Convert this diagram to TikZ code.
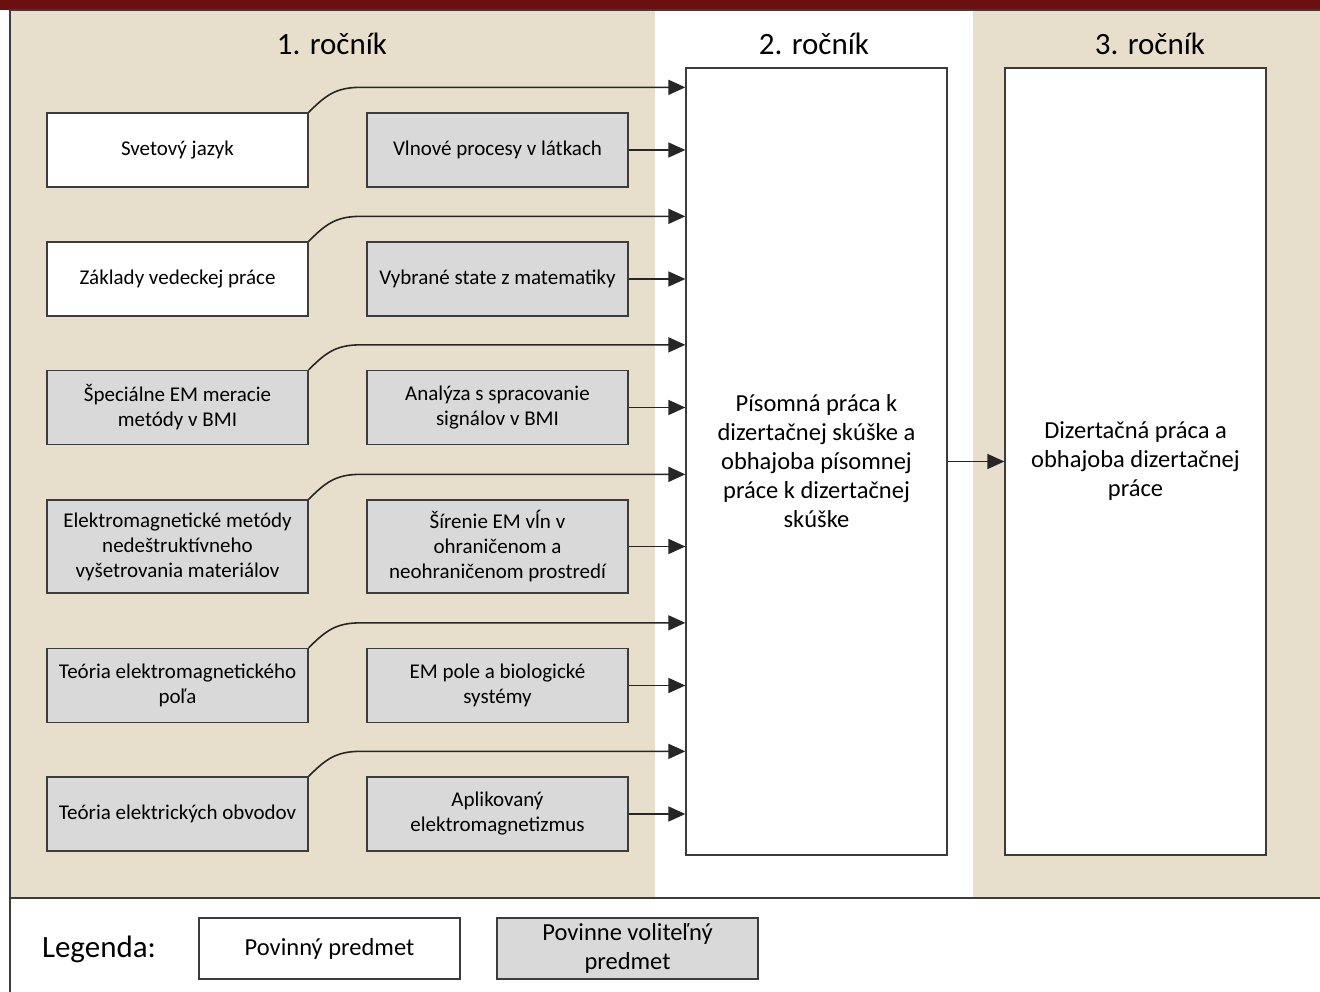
\documentclass[tikz,border=0pt]{standalone}
\usepackage{fontspec}
\setmainfont{Carlito}
\definecolor{studbeige}{HTML}{E7DFCC}
\definecolor{studgray}{HTML}{D9D9D9}
\definecolor{studred}{HTML}{6A1010}
\definecolor{studline}{HTML}{3C3C3C}
\usetikzlibrary{arrows.meta, positioning, calc}

\begin{document}
\begin{tikzpicture}[x=1pt, y=-1pt,
    subj/.style={rectangle, draw=studline, line width=1.3pt, fill=white,
                 minimum width=261pt, minimum height=74pt, inner sep=0pt,
                 align=center, font=\fontsize{21}{25}\selectfont},
    opt/.style={subj, fill=studgray},
    big/.style={subj, minimum height=787pt,
                font=\fontsize{24.5}{29}\selectfont},
    head/.style={font=\fontsize{31}{34}\selectfont},
    arr/.style={-{Triangle[length=17pt, width=15pt]}, line width=1.6pt,
                black!85}
  ]
    \useasboundingbox (0,0) rectangle (1320,992);
    % Background of the three years
    \fill[studbeige] (10,10) rectangle (655,898);
    \fill[white]     (655,10) rectangle (973,898);
    \fill[studbeige] (973,10) rectangle (1320,898);
    \fill[studred]   (0,0) rectangle (1320,10);
    \draw[studline, line width=1.3pt] (10,10) -- (10,992);
    \draw[studline, line width=1.3pt] (10,10) -- (1320,10);
    \draw[studline, line width=1.3pt] (10,898) -- (1320,898);
    % Headings
    \node[head] (h1) at (332,44)  {1. ročník};
    \node[head] (h2) at (814,44)  {2. ročník};
    \node[head] (h3) at (1150,44) {3. ročník};
    % Year 2 and year 3
    \node[big] (pis) at (816.5,461.5)
      {Písomná práca k\\dizertačnej skúške a\\obhajoba písomnej\\práce k dizertačnej\\skúške};
    \node[big] (diz) at (1135.5,461.5)
      {Dizertačná práca a\\obhajoba dizertačnej\\práce};
    % Year 1, left column
    \node[subj] (sv)  at (177.5,150)   {Svetový jazyk};
    \node[subj] (zvp) at (177.5,279)   {Základy vedeckej práce};
    \node[opt]  (sem) at (177.5,407.5) {Špeciálne EM meracie\\metódy v BMI};
    \node[opt, minimum height=93pt] (emn) at (177.5,546.5)
      {Elektromagnetické metódy\\nedeštruktívneho\\vyšetrovania materiálov};
    \node[opt]  (tep) at (177.5,685.5) {Teória elektromagnetického\\poľa};
    \node[opt]  (teo) at (177.5,814)   {Teória elektrických obvodov};
    % Year 1, right column
    \node[opt]  (vl)  at (497.5,150)   {Vlnové procesy v látkach};
    \node[opt]  (vsm) at (497.5,279)   {Vybrané state z matematiky};
    \node[opt]  (ass) at (497.5,407.5) {Analýza s spracovanie\\signálov v BMI};
    \node[opt, minimum height=93pt] (sir) at (497.5,546.5)
      {Šírenie EM vĺn v\\ohraničenom a\\neohraničenom prostredí};
    \node[opt]  (ebs) at (497.5,685.5) {EM pole a biologické\\systémy};
    \node[opt]  (aem) at (497.5,814)   {Aplikovaný\\elektromagnetizmus};
    % Legend
    \node[head] (leg) at (99,949) {Legenda:};
    \node[subj, minimum height=61pt, font=\fontsize{24.5}{29}\selectfont]
      (lpov) at (329.5,948.5) {Povinný predmet};
    \node[opt, minimum height=61pt, font=\fontsize{24.5}{29}\selectfont]
      (lvol) at (627.5,948.5) {Povinne voliteľný\\predmet};

    % Left column connections (curved up and over)
    \draw[arr] (sv.north east) .. controls +(17,-17) and +(-25,0) .. ++(52,-25)
      coordinate (k1) -- (k1 -| pis.west);
    \draw[arr] (zvp.north east) .. controls +(17,-17) and +(-25,0) .. ++(52,-25)
      coordinate (k2) -- (k2 -| pis.west);
    \draw[arr] (sem.north east) .. controls +(17,-17) and +(-25,0) .. ++(52,-25)
      coordinate (k3) -- (k3 -| pis.west);
    \draw[arr] (emn.north east) .. controls +(17,-17) and +(-25,0) .. ++(52,-25)
      coordinate (k4) -- (k4 -| pis.west);
    \draw[arr] (tep.north east) .. controls +(17,-17) and +(-25,0) .. ++(52,-25)
      coordinate (k5) -- (k5 -| pis.west);
    \draw[arr] (teo.north east) .. controls +(17,-17) and +(-25,0) .. ++(52,-25)
      coordinate (k6) -- (k6 -| pis.west);

    % Right column connections
    \draw[arr] (vl)  -- (vl -| pis.west);
    \draw[arr] (vsm) -- (vsm -| pis.west);
    \draw[arr] (ass) -- (ass -| pis.west);
    \draw[arr] (sir) -- (sir -| pis.west);
    \draw[arr] (ebs) -- (ebs -| pis.west);
    \draw[arr] (aem) -- (aem -| pis.west);

    % Year 2 -> year 3
    \draw[arr] (pis) -- (diz);
\end{tikzpicture}
\end{document}
